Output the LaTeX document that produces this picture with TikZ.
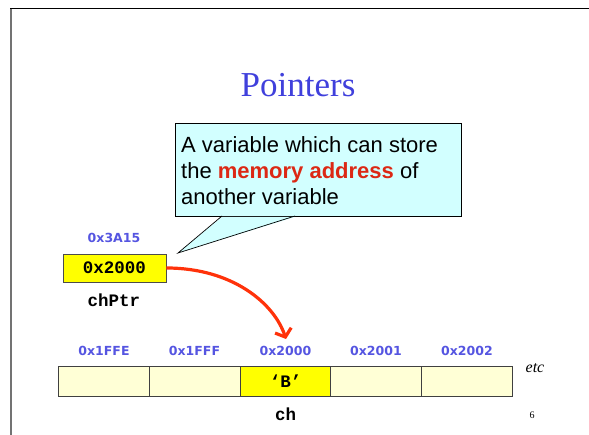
\documentclass[tikz,border=0pt]{standalone}
\usepackage{fontspec}
\setmainfont{Liberation Serif}
\newfontfamily\calloutfont{Liberation Sans}
\newfontfamily\addrfont{DejaVu Sans}
\newfontfamily\codefont{Liberation Mono}
\usetikzlibrary{arrows.meta}
\definecolor{titleblue}{RGB}{64,64,220}
\definecolor{addrblue}{RGB}{85,85,225}
\definecolor{bubble}{RGB}{210,255,255}
\definecolor{cellfill}{RGB}{255,255,214}
\definecolor{hot}{RGB}{255,255,0}
\definecolor{arrowred}{RGB}{255,50,10}
\definecolor{keyred}{RGB}{220,40,20}
\tikzset{
  addr/.style={font=\addrfont\bfseries\fontsize{12.5}{14}\selectfont, text=addrblue},
  code/.style={font=\codefont\bfseries\fontsize{17.5}{19}\selectfont},
  cell/.style={draw=black!75, line width=0.9pt, fill=cellfill, minimum width=91pt, minimum height=30pt, inner sep=0pt, outer sep=0pt},
}
\begin{document}
\begin{tikzpicture}[x=1pt, y=-1pt]
\useasboundingbox (0,0) rectangle (589,435);
% slide frame
\draw[black, line width=1pt] (10,9) -- (589,9);
\draw[black!55, line width=2pt] (11,9) -- (11,435);

% title
\node[font=\fontsize{35}{40}\selectfont, text=titleblue] (title) at (298,85) {Pointers};

% callout bubble
\node[draw=black, line width=0.7pt, fill=bubble, minimum width=286pt, minimum height=93pt, inner sep=0pt, anchor=north west] (bubble) at (175,123) {};
\node[font=\calloutfont\fontsize{22}{26}\selectfont, align=left, anchor=north west, inner sep=0pt] (btext) at (181,136)
  {A variable which can store\\the \textcolor{keyred}{\bfseries memory address} of\\another variable};
\coordinate (tipL) at (222,216);
\coordinate (tipR) at (295,216);
\coordinate (tip) at (178,253);
\fill[bubble] ([yshift=-1pt]tipL) -- (tip) -- ([yshift=-1pt]tipR) -- cycle;
\draw[black, line width=0.7pt, line join=miter] (tipL) -- (tip) -- (tipR);

% pointer variable
\node[addr] (paddr) at (114,238) {0x3A15};
\node[draw=black!70, line width=0.9pt, fill=hot, minimum width=103pt, minimum height=28pt, inner sep=0pt, code] (ptr) at (114.5,268) {0x2000};
\node[code] (pname) at (114,300) {chPtr};

% memory cells
\node[cell] (c1) at (104,381) {};
\node[cell] (c2) at (194.5,381) {};
\node[cell, fill=hot, code] (c3) at (285.5,381) {‘B’};
\node[cell] (c4) at (376,381) {};
\node[cell] (c5) at (467,381) {};
\node[addr] (a1) at (104,351) {0x1FFE};
\node[addr] (a2) at (194.5,351) {0x1FFF};
\node[addr] (a3) at (285.5,351) {0x2000};
\node[addr] (a4) at (376,351) {0x2001};
\node[addr] (a5) at (467,351) {0x2002};
\node[font=\itshape\fontsize{16}{18}\selectfont] (etc) at (535,368) {etc};
\node[code] (cname) at (285.5,414) {ch};
\node[font=\fontsize{10}{12}\selectfont] (page) at (532,415) {6};

% pointer arrow
\coordinate (ahead) at (286,339);
\draw[arrowred, line width=3.2pt, -{Straight Barb[length=7pt, width=17pt, line width=3.2pt]}]
  (ptr.east) .. controls (232,268) and (274,303) .. (ahead);
\end{tikzpicture}
\end{document}
